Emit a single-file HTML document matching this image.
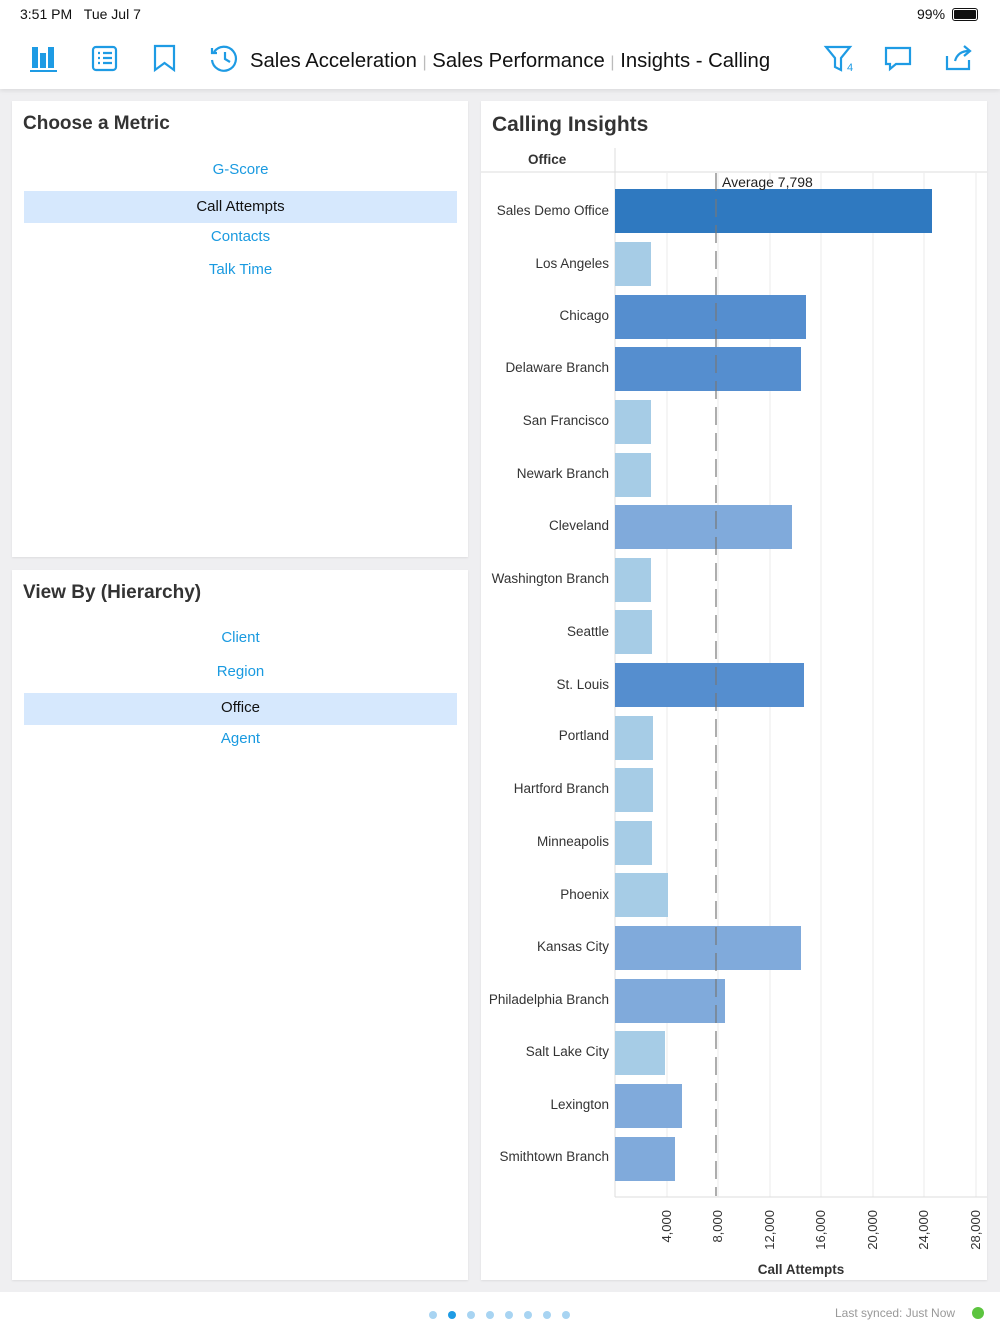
<!DOCTYPE html>
<html><head><meta charset="utf-8"><style>
*{margin:0;padding:0;box-sizing:border-box}
body{width:1000px;height:1334px;background:#efeff1;font-family:"Liberation Sans",sans-serif;position:relative;overflow:hidden}
.abs{position:absolute}
.panel{position:absolute;background:#fff;box-shadow:0 1px 2px rgba(0,0,0,.08)}
.h{font-weight:bold;font-size:19px;color:#333}
.item{position:absolute;left:12px;width:433px;height:32px;line-height:32px;text-align:center;font-size:15px;color:#1a9ae0}
.sel{background:#d6e8fd;color:#111}
</style></head><body>
<div class="abs" style="left:0;top:0;width:1000px;height:89px;background:#fff;box-shadow:0 2px 4px rgba(0,0,0,.08)"></div>
<div class="abs" style="left:20px;top:6px;font-size:14px;color:#111">3:51 PM&nbsp;&nbsp;&nbsp;Tue Jul 7</div>
<div class="abs" style="left:917px;top:6px;font-size:14px;color:#111">99%</div>
<div class="abs" style="left:952px;top:8px;width:26px;height:13px;border:1.5px solid #111;border-radius:3px;padding:1px"><div style="background:#111;width:100%;height:100%;border-radius:1px"></div></div>
<svg class="abs" style="left:0;top:40px" width="1000" height="40">
<g fill="#1e9be4"><rect x="32" y="7" width="6" height="21"/><rect x="40" y="13" width="6" height="15"/><rect x="48" y="7" width="6" height="21"/><rect x="30" y="30" width="27" height="2"/></g>
<g fill="none" stroke="#1e9be4" stroke-width="2.2"><rect x="93" y="7" width="23" height="23" rx="3"/><path d="M98 13h2M98 18h2M98 23h2M103 13h9M103 18h9M103 23h9"/>
<path d="M155 6h19v24l-9.5-7-9.5 7z"/><path d="M214 12a12 12 0 1 1 -2 8M212 8v5h5M225 12v7l5 3"/>
<path d="M826 7h24l-9 11v12l-6-3v-9z"/><path d="M886 8h24v16h-14l-6 5v-5h-4z"/><path d="M947 16v13h22v-9M955 21c2-7 7-10 14-10M964 6l6 5-6 5"/></g>
<text x="847" y="31" font-size="11" fill="#1e9be4" font-family="Liberation Sans">4</text>
<text x="250" y="27" font-size="20.3" fill="#111" font-family="Liberation Sans">Sales Acceleration <tspan fill="#bbb" font-size="16">|</tspan> Sales Performance <tspan fill="#bbb" font-size="16">|</tspan> Insights - Calling</text>
</svg>

<div class="panel" style="left:12px;top:101px;width:456px;height:456px">
<div class="h abs" style="left:11px;top:12px">Choose a Metric</div>
<div class="item" style="top:53px">G-Score</div>
<div class="item sel" style="top:90px">Call Attempts</div>
<div class="item" style="top:120px">Contacts</div>
<div class="item" style="top:153px">Talk Time</div>
</div>
<div class="panel" style="left:12px;top:570px;width:456px;height:710px">
<div class="h abs" style="left:11px;top:12px">View By (Hierarchy)</div>
<div class="item" style="top:52px">Client</div>
<div class="item" style="top:86px">Region</div>
<div class="item sel" style="top:123px;line-height:29px">Office</div>
<div class="item" style="top:153px">Agent</div>
</div>

<div class="panel" style="left:481px;top:101px;width:506px;height:1179px">
<div class="h abs" style="left:11px;top:12px;font-size:21px">Calling Insights</div>
<div class="abs" style="left:47px;top:51px;font-size:13.5px;font-weight:bold;color:#333">Office</div>
</div>
<svg class="abs" style="left:0;top:0" width="1000" height="1334" font-family="Liberation Sans">
<g stroke="#ebebeb" stroke-width="1"><line x1="667" y1="173" x2="667" y2="1197"/><line x1="718" y1="173" x2="718" y2="1197"/><line x1="770" y1="173" x2="770" y2="1197"/><line x1="821" y1="173" x2="821" y2="1197"/><line x1="873" y1="173" x2="873" y2="1197"/><line x1="924" y1="173" x2="924" y2="1197"/><line x1="976" y1="173" x2="976" y2="1197"/></g>
<line x1="481" y1="172" x2="987" y2="172" stroke="#ddd"/>
<line x1="615" y1="148" x2="615" y2="1197" stroke="#ddd"/>
<line x1="615" y1="1197" x2="987" y2="1197" stroke="#ddd"/>
<g>
<rect x="615" y="189" width="317" height="44" fill="#2f79c0"/>
<rect x="615" y="242" width="36" height="44" fill="#a6cce6"/>
<rect x="615" y="295" width="191" height="44" fill="#558ecf"/>
<rect x="615" y="347" width="186" height="44" fill="#558ecf"/>
<rect x="615" y="400" width="36" height="44" fill="#a6cce6"/>
<rect x="615" y="453" width="36" height="44" fill="#a6cce6"/>
<rect x="615" y="505" width="177" height="44" fill="#80aadb"/>
<rect x="615" y="558" width="36" height="44" fill="#a6cce6"/>
<rect x="615" y="610" width="37" height="44" fill="#a6cce6"/>
<rect x="615" y="663" width="189" height="44" fill="#558ecf"/>
<rect x="615" y="716" width="38" height="44" fill="#a6cce6"/>
<rect x="615" y="768" width="38" height="44" fill="#a6cce6"/>
<rect x="615" y="821" width="37" height="44" fill="#a6cce6"/>
<rect x="615" y="873" width="53" height="44" fill="#a6cce6"/>
<rect x="615" y="926" width="186" height="44" fill="#80aadb"/>
<rect x="615" y="979" width="110" height="44" fill="#80aadb"/>
<rect x="615" y="1031" width="50" height="44" fill="#a6cce6"/>
<rect x="615" y="1084" width="67" height="44" fill="#80aadb"/>
<rect x="615" y="1137" width="60" height="44" fill="#80aadb"/>
</g>
<line x1="716" y1="173" x2="716" y2="1196" stroke="#777" stroke-width="1.2" stroke-dasharray="18,8"/>
<text x="722" y="187" font-size="14" fill="#222">Average 7,798</text>
<g font-size="13.5" fill="#333" text-anchor="end">
<text x="609" y="215">Sales Demo Office</text><text x="609" y="268">Los Angeles</text><text x="609" y="320">Chicago</text><text x="609" y="372">Delaware Branch</text><text x="609" y="425">San Francisco</text><text x="609" y="478">Newark Branch</text><text x="609" y="530">Cleveland</text><text x="609" y="583">Washington Branch</text><text x="609" y="636">Seattle</text><text x="609" y="689">St. Louis</text><text x="609" y="740">Portland</text><text x="609" y="793">Hartford Branch</text><text x="609" y="846">Minneapolis</text><text x="609" y="899">Phoenix</text><text x="609" y="951">Kansas City</text><text x="609" y="1004">Philadelphia Branch</text><text x="609" y="1056">Salt Lake City</text><text x="609" y="1109">Lexington</text><text x="609" y="1161">Smithtown Branch</text>
</g>
<g font-size="13" fill="#333" text-anchor="end">
<text transform="translate(671,1210) rotate(-90)">4,000</text>
<text transform="translate(722,1210) rotate(-90)">8,000</text>
<text transform="translate(774,1210) rotate(-90)">12,000</text>
<text transform="translate(825,1210) rotate(-90)">16,000</text>
<text transform="translate(877,1210) rotate(-90)">20,000</text>
<text transform="translate(928,1210) rotate(-90)">24,000</text>
<text transform="translate(980,1210) rotate(-90)">28,000</text>
</g>
<text x="801" y="1274" font-size="13.5" font-weight="bold" fill="#333" text-anchor="middle">Call Attempts</text>
</svg>
<div class="abs" style="left:0;top:1292px;width:1000px;height:42px;background:#fff"></div>
<svg class="abs" style="left:420px;top:1308px" width="160" height="14"><g fill="#a8d4f2"><circle cx="13" cy="7" r="4"/><circle cx="51" cy="7" r="4"/><circle cx="70" cy="7" r="4"/><circle cx="89" cy="7" r="4"/><circle cx="108" cy="7" r="4"/><circle cx="127" cy="7" r="4"/><circle cx="146" cy="7" r="4"/></g><circle cx="32" cy="7" r="4" fill="#1e9be4"/></svg>
<div class="abs" style="left:835px;top:1306px;font-size:12px;color:#999">Last synced: Just Now</div>
<div class="abs" style="left:972px;top:1307px;width:12px;height:12px;border-radius:50%;background:#5cc43f"></div>
</body></html>
